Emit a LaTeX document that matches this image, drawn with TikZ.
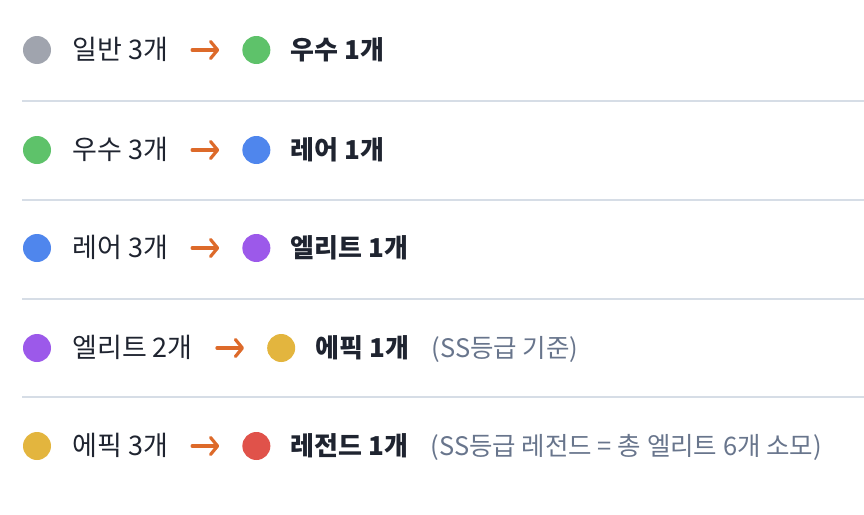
\documentclass[tikz,border=0pt]{standalone}
\usepackage{fontspec}
\setmainfont{Noto Sans CJK KR}
\usetikzlibrary{positioning, arrows.meta}
\definecolor{InkDark}{RGB}{31, 36, 48}
\definecolor{NoteGrey}{RGB}{104, 117, 140}
\definecolor{RuleGrey}{RGB}{214, 221, 230}
\definecolor{ArrowOrange}{RGB}{221, 106, 42}
\definecolor{TierNormal}{RGB}{160, 164, 174}
\definecolor{TierGood}{RGB}{94, 194, 106}
\definecolor{TierRare}{RGB}{79, 134, 237}
\definecolor{TierElite}{RGB}{156, 89, 234}
\definecolor{TierEpic}{RGB}{227, 181, 62}
\definecolor{TierLegend}{RGB}{224, 82, 74}
\tikzset{
  dot/.style={circle, fill=#1, minimum size=28pt, inner sep=0pt},
  itemtxt/.style={inner sep=0pt, text=InkDark, font=\fontsize{27}{32}\selectfont,
    text height=22pt, text depth=3pt},
  boldtxt/.style={itemtxt, font=\fontsize{26}{32}\selectfont\bfseries},
  notetxt/.style={itemtxt, text=NoteGrey, font=\fontsize{25.5}{32}\selectfont},
  tierarrow/.style={-{Straight Barb[length=7pt,width=17pt,round]}, line width=3.2pt,
    line cap=round, ArrowOrange, shorten <=24pt, shorten >=23pt},
  sepline/.style={RuleGrey, line width=1.5pt}
}
\begin{document}
\begin{tikzpicture}[x=1pt, y=1pt]
    \useasboundingbox (0,0) rectangle (864,-514);
    % 일반 -> 우수
    \node[dot=TierNormal] (c11) at (37,-50) {};
    \node[itemtxt, right=21pt of c11] (t11) {일반 3개};
    \node[dot=TierGood, right=74pt of t11] (c12) {};
    \node[boldtxt, right=20pt of c12] (t12) {우수 1개};
    \draw[tierarrow] (t11) -- (c12);
    \draw[sepline] (22,-101) -- (864,-101);
    % 우수 -> 레어
    \node[dot=TierGood] (c21) at (37,-150) {};
    \node[itemtxt, right=21pt of c21] (t21) {우수 3개};
    \node[dot=TierRare, right=74pt of t21] (c22) {};
    \node[boldtxt, right=20pt of c22] (t22) {레어 1개};
    \draw[tierarrow] (t21) -- (c22);
    \draw[sepline] (22,-200) -- (864,-200);
    % 레어 -> 엘리트
    \node[dot=TierRare] (c31) at (37,-248) {};
    \node[itemtxt, right=21pt of c31] (t31) {레어 3개};
    \node[dot=TierElite, right=74pt of t31] (c32) {};
    \node[boldtxt, right=20pt of c32] (t32) {엘리트 1개};
    \draw[tierarrow] (t31) -- (c32);
    \draw[sepline] (22,-299) -- (864,-299);
    % 엘리트 -> 에픽
    \node[dot=TierElite] (c41) at (37,-348) {};
    \node[itemtxt, right=21pt of c41] (t41) {엘리트 2개};
    \node[dot=TierEpic, right=74pt of t41] (c42) {};
    \node[boldtxt, right=20pt of c42] (t42) {에픽 1개};
    \node[notetxt, right=22pt of t42] (n42) {(SS등급 기준)};
    \draw[tierarrow] (t41) -- (c42);
    \draw[sepline] (22,-397) -- (864,-397);
    % 에픽 -> 레전드
    \node[dot=TierEpic] (c51) at (37,-446) {};
    \node[itemtxt, right=21pt of c51] (t51) {에픽 3개};
    \node[dot=TierLegend, right=74pt of t51] (c52) {};
    \node[boldtxt, right=20pt of c52] (t52) {레전드 1개};
    \node[notetxt, right=22pt of t52] (n52) {(SS등급 레전드 = 총 엘리트 6개 소모)};
    \draw[tierarrow] (t51) -- (c52);
\end{tikzpicture}
\end{document}
